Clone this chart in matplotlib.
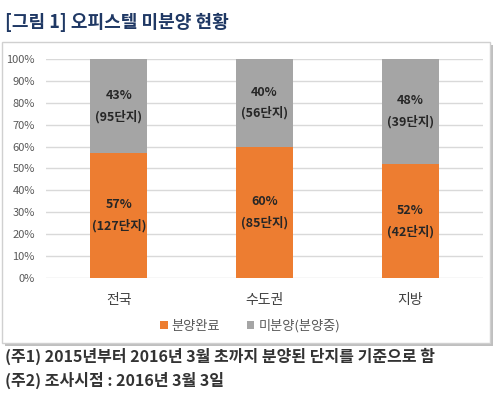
import numpy as np
import matplotlib.pyplot as plt
from matplotlib.patches import Rectangle

plt.rcParams['font.family'] = ['Noto Sans CJK KR', 'DejaVu Sans']

# data
regions = ['전국', '수도권', '지방']
done_pct = [57, 60, 52]          # 분양완료 (%)
done_cnt = [127, 85, 42]         # 단지 수
unsold_pct = [43, 40, 48]        # 미분양(분양중) (%)
unsold_cnt = [95, 56, 39]
series_names = ['분양완료', '미분양(분양중)']
colors = ['#ED7D31', '#A5A5A5']

fig = plt.figure(figsize=(5, 3.93), dpi=100)
fig.patch.set_facecolor('white')

# chart box with shadow
fig.patches.append(Rectangle((0.010, 0.120), 0.976, 0.766, transform=fig.transFigure,
                             facecolor='#BFBFBF', edgecolor='none', zorder=0))
fig.patches.append(Rectangle((0.004, 0.127), 0.976, 0.766, transform=fig.transFigure,
                             facecolor='white', edgecolor='#D0D0D0', lw=1, zorder=1))

ax = fig.add_axes([0.092, 0.2926, 0.874, 0.5573])
ax.set_zorder(2)
ax.patch.set_alpha(0)

x = np.arange(len(regions))
w = 0.39
ax.bar(x, done_pct, w, color=colors[0], label=series_names[0], zorder=3)
ax.bar(x, unsold_pct, w, bottom=done_pct, color=colors[1], label=series_names[1], zorder=3)

for i in range(len(regions)):
    ax.text(x[i], done_pct[i] / 2, f'{done_pct[i]}%\n({done_cnt[i]}단지)',
            ha='center', va='center', fontsize=9, fontweight='bold',
            color='#262626', linespacing=1.75, zorder=4)
    ax.text(x[i], done_pct[i] + unsold_pct[i] / 2, f'{unsold_pct[i]}%\n({unsold_cnt[i]}단지)',
            ha='center', va='center', fontsize=9, fontweight='bold',
            color='#262626', linespacing=1.75, zorder=4)

ax.set_xlim(-0.5, 2.5)
ax.set_ylim(0, 100)
ax.set_yticks(np.arange(0, 101, 10))
ax.set_yticklabels([f'{v}%' for v in range(0, 101, 10)])
ax.set_xticks(x)
ax.set_xticklabels(regions)
ax.tick_params(axis='y', length=0, labelsize=8, labelcolor='#595959', pad=8)
ax.tick_params(axis='x', length=0, labelsize=10, labelcolor='#404040', pad=11)
ax.grid(axis='y', color='#D9D9D9', lw=1, zorder=0)
for s in ax.spines.values():
    s.set_visible(False)

fig.legend(loc='center', bbox_to_anchor=(0.5, 0.1705), ncol=2, frameon=False,
           fontsize=9.5, handlelength=0.6, handleheight=0.6, handletextpad=0.3,
           columnspacing=2.0, labelcolor='#595959')

# title and notes
fig.text(0.01, 0.944, '[그림 1] 오피스텔 미분양 현황', fontsize=13, fontweight='bold',
         color='#1F3864', va='center', ha='left')
fig.text(0.01, 0.092, '(주1) 2015년부터 2016년 3월 초까지 분양된 단지를 기준으로 함',
         fontsize=11.5, fontweight='bold', color='#333333', va='center', ha='left')
fig.text(0.01, 0.031, '(주2) 조사시점 : 2016년 3월 3일',
         fontsize=11.5, fontweight='bold', color='#333333', va='center', ha='left')

fig.savefig('out.png', dpi=100)
